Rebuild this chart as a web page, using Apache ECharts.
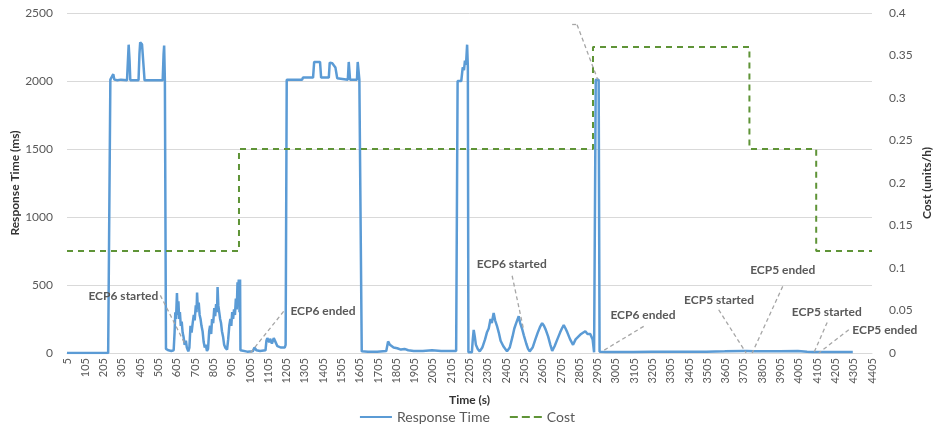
<!DOCTYPE html>
<html>
<head>
<meta charset="utf-8">
<script src="https://cdn.jsdelivr.net/npm/echarts@6/dist/echarts.min.js"></script>
<style>
html,body{margin:0;padding:0;background:#fff;}
#chart{width:935px;height:428px;}
</style>
</head>
<body>
<div id="chart"></div>
<script>
// ---- data ----
const tickLabels = ['5','105','205','305','405','505','605','705','805','905','1005','1105','1205','1305','1405','1505','1605','1705','1805','1905','2005','2105','2205','2305','2405','2505','2605','2705','2805','2905','3005','3105','3205','3305','3405','3505','3605','3705','3805','3905','4005','4105','4205','4305','4405'];

const rtTime = [5,230,233,242,250,258,264,280,300,333,338,342,347,351,370,396,401,405,415,424,429,460,500,528,533,536,540,542,546,560,575,588,
593,597,601,606,610,614,618,622,627,632,637,642,648,655,660,668,674,680,686,692,698,703,709,713,716,720,725,730,735,740,746,752,758,763,770,
776,782,787,793,798,804,810,815,820,825,828,832,837,842,847,852,858,864,870,880,886,892,898,903,908,913,918,923,928,933,937,940,944,948,951,953,
960,990,1020,1030,1040,1060,1090,1095,1100,1110,1115,1125,1135,1145,1155,1165,1175,1185,1195,1200,1206,1250,1290,1295,1350,1356,1388,1394,
1436,1441,1455,1472,1482,1540,1545,1549,1552,1590,1594,1600,1603,1612,1616,1650,1700,1750,1760,1770,1790,1810,1830,1850,1870,1900,1950,2000,
2050,2100,2132,2140,2160,2168,2175,2180,2186,2192,2196,2199,2218,2223,2228,2234,2240,2250,2261,2275,2290,2300,2310,2320,2327,2337,2345,2355,
2365,2375,2390,2410,2425,2440,2450,2460,2468,2474,2482,2492,2502,2515,2525,2534,2550,2565,2578,2590,2602,2612,2622,2635,2647,2657,2670,2685,
2700,2710,2720,2730,2740,2755,2771,2785,2800,2815,2825,2838,2850,2865,2878,2886,2890,2895,2905,2911,2916,2950,3000,3100,3200,3300,3400,3500,
3600,3700,3720,3760,3800,3900,4000,4050,4080,4200,4300,4405];

const rtValue = [0,0,0,2010,2005,2050,2010,2005,2010,2005,2150,2267,2150,2005,2005,2005,2200,2285,2270,2265,2005,2005,2005,2005,2200,2260,2005,2005,30,20,15,20,
150,300,250,440,280,380,250,300,200,230,150,120,60,90,40,12,40,200,150,220,280,240,350,300,445,330,370,280,250,200,160,80,40,60,15,
30,160,200,140,250,220,330,270,360,300,485,350,300,250,220,160,120,60,40,25,100,200,250,200,300,250,320,280,400,320,520,450,540,300,540,20,
15,10,12,40,20,15,20,90,110,80,105,70,110,80,50,60,40,30,40,60,2010,2010,2010,2025,2025,2140,2140,2025,
2025,2135,2130,2100,2020,2010,2140,2140,2010,2010,2140,2140,2010,2010,12,10,10,15,85,60,40,35,25,30,20,15,15,20,
15,15,15,2000,2000,2100,2080,2150,2120,2267,2100,5,5,100,170,120,60,30,12,40,100,150,180,250,220,295,240,200,
150,90,50,12,40,120,180,220,210,270,220,180,130,70,30,12,40,100,150,190,220,200,170,120,60,15,50,100,
150,180,205,180,150,100,60,100,120,140,130,160,140,140,100,5,5,2010,2020,2010,10,8,8,8,10,10,10,
10,12,15,15,12,12,12,15,10,8,8,8];

const costTime = [5,945,2880,3735,4100,4405];
const costValue = [0.12,0.24,0.36,0.24,0.12,0.12];

// annotation texts with anchor (time, ms) and leader line endpoints
const noteText  = ['ECP6 started','ECP6 ended','ECP6 started','ECP6 ended','ECP5 started','ECP5 ended','ECP5 started','ECP5 ended'];
const noteAnchor = [[504,421],[1226,306],[2436,654],[2975,279],[3569,392],[3917,612],[4158,299],[4297,166]];
const noteAlign = ['right','left','center','left','center','center','center','left'];
const leaderFrom = [[515,424],[1189,306],[2438,568],[3157,196],[3567,318],[3917,490],[4160,225],[4278,171],[2766,2414],[2793,2414]];
const leaderTo   = [[652,61],[1007,0],[2501,171],[2930,12],[3717,0],[3750,0],[4087,0],[4114,0],[2793,2414],[2906,2010]];

// ---- chart ----
const FONT = 'Lato, "Open Sans", sans-serif';
const chart = echarts.init(document.getElementById('chart'), null, {renderer:'canvas'});

const rtData = rtTime.map((t,i)=>[t, rtValue[i]]);
const costData = costTime.map((t,i)=>[t, costValue[i]]);

const markLines = leaderFrom.map((p,i)=>[{coord:p},{coord:leaderTo[i]}]);
const markPoints = noteText.map((s,i)=>({
  name: s,
  coord: noteAnchor[i],
  label: {align: noteAlign[i]}
}));

chart.setOption({
  animation:false,
  textStyle:{fontFamily:FONT},
  grid:{left:67,right:63,top:13,bottom:75,containLabel:false,outerBoundsMode:'none'},
  legend:{
    data:[{name:'Response Time',icon:'path://M0,4 L32,4 L32,6 L0,6 Z'},{name:'Cost',icon:'path://M0,4 L8,4 L8,6 L0,6 Z M12,4 L20,4 L20,6 L12,6 Z M24,4 L32,4 L32,6 L24,6 Z'}],
    left:'center', top:405,
    itemWidth:32, itemHeight:3, itemGap:20,
    textStyle:{fontSize:14,color:'#595959',fontFamily:FONT}
  },
  xAxis:[
    {
      type:'category', data:tickLabels, boundaryGap:false, position:'bottom',
      axisLine:{show:true,onZero:false,lineStyle:{color:'#d9d9d9'}},
      axisTick:{show:false},
      axisLabel:{rotate:90,interval:0,fontSize:11,color:'#595959',margin:5,fontFamily:FONT},
      splitLine:{show:false},
      name:'Time (s)', nameLocation:'middle', nameGap:41, nameMoveOverlap:false,
      nameTextStyle:{fontSize:12,fontWeight:'bold',color:'#333',fontFamily:FONT}
    },
    {
      type:'value', min:5, max:4405, show:false, position:'bottom',
      axisLine:{onZero:false}, splitLine:{show:false}
    }
  ],
  yAxis:[
    {
      type:'value', min:0, max:2500, interval:500,
      axisLine:{show:false}, axisTick:{show:false},
      axisLabel:{fontSize:12,color:'#595959',margin:14,fontFamily:FONT,formatter:(v)=>String(v)},
      splitLine:{lineStyle:{color:'#d9d9d9',width:1}},
      name:'Response Time (ms)', nameLocation:'middle', nameGap:46, nameRotate:90, nameMoveOverlap:false,
      nameTextStyle:{fontSize:12,fontWeight:'bold',color:'#333',fontFamily:FONT}
    },
    {
      type:'value', min:0, max:0.4, interval:0.05, position:'right',
      axisLine:{show:false}, axisTick:{show:false},
      axisLabel:{fontSize:12,color:'#595959',margin:17,fontFamily:FONT,formatter:(v)=>String(Math.round(v*100)/100)},
      splitLine:{show:false},
      name:'Cost (units/h)', nameLocation:'middle', nameGap:49, nameRotate:90, nameMoveOverlap:false,
      nameTextStyle:{fontSize:12,fontWeight:'bold',color:'#333',fontFamily:FONT}
    }
  ],
  series:[
    {
      name:'Response Time', type:'line', xAxisIndex:1, yAxisIndex:0,
      data:rtData, symbol:'none', showSymbol:false,
      color:'#5b9bd5',
      lineStyle:{color:'#5b9bd5',width:2.5},
      markLine:{
        silent:true, symbol:['none','none'],
        lineStyle:{color:'#a6a6a6',type:[4,3],width:1.3},
        label:{show:false},
        data:markLines
      },
      markPoint:{
        silent:true, symbol:'circle', symbolSize:0,
        label:{
          show:true, position:[0,0], verticalAlign:'middle',
          formatter:'{b}', fontSize:12, fontWeight:'bold', color:'#595959', fontFamily:FONT
        },
        data:markPoints
      }
    },
    {
      name:'Cost', type:'line', step:'end', xAxisIndex:1, yAxisIndex:1,
      data:costData, symbol:'none', showSymbol:false,
      color:'#5f9437',
      lineStyle:{color:'#5f9437',width:2,type:[6,5]}
    }
  ]
});
</script>
</body>
</html>
